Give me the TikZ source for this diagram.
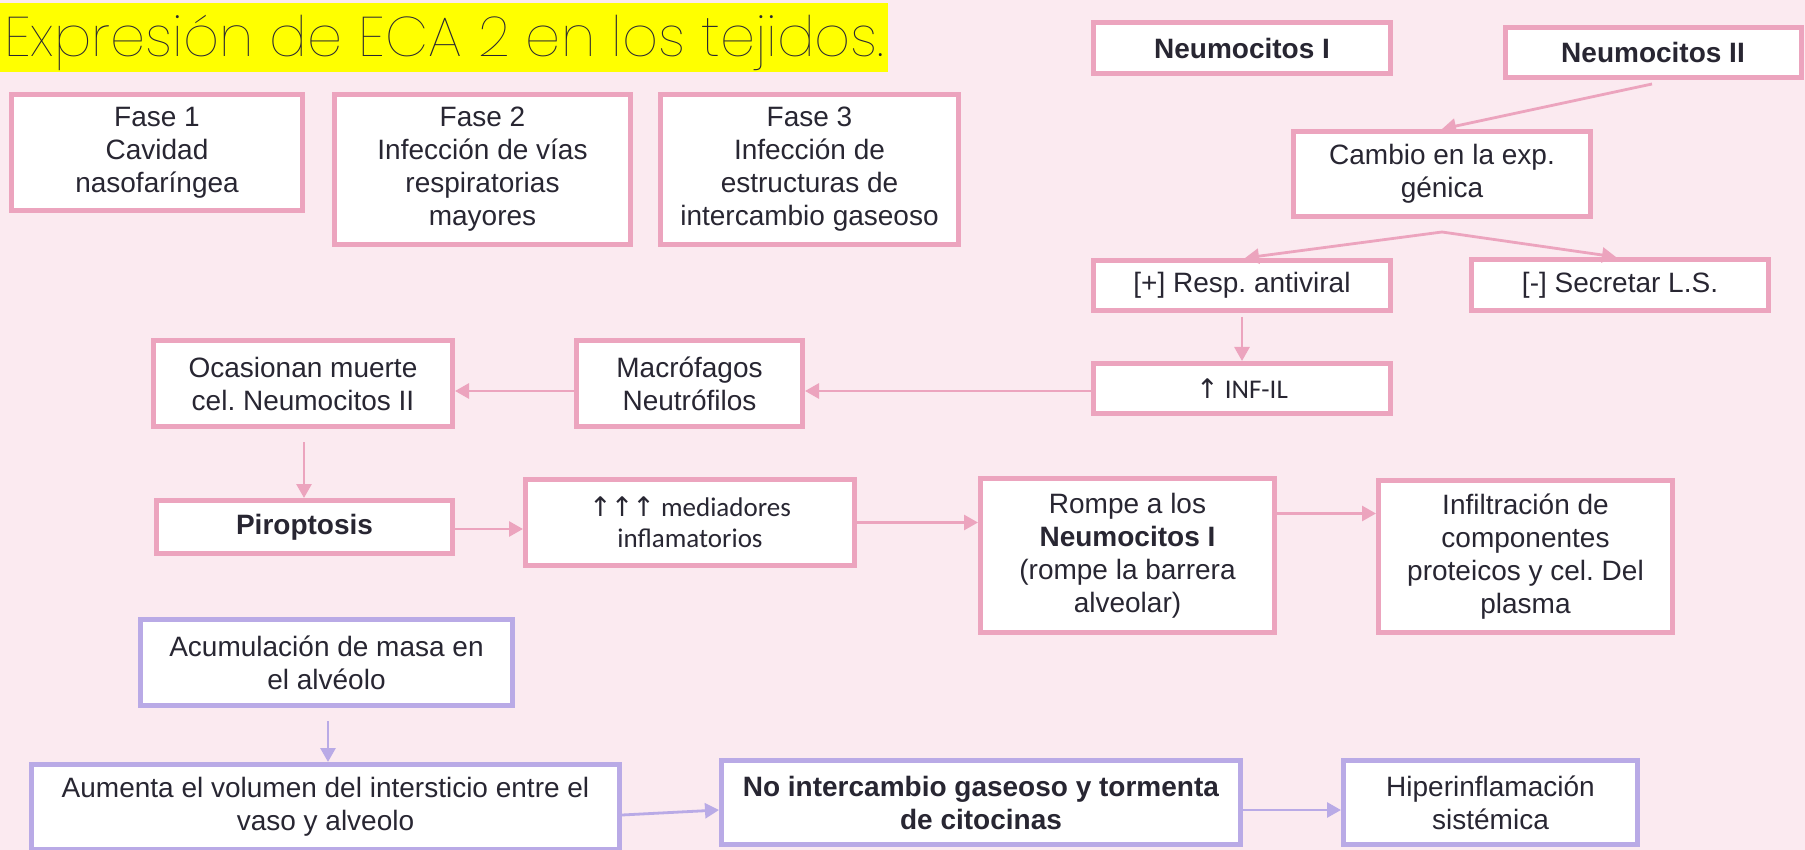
\documentclass[tikz,border=0pt]{standalone}
\usepackage{fontspec}
\setmainfont{Liberation Sans}
\newfontfamily\calib{Carlito}
\newfontfamily\dejavu{DejaVu Sans}
\IfFontExistsTF{Poppins Thin}{\newfontfamily\titlefont{Poppins Thin}}{\IfFontExistsTF{Poppins ExtraLight}{\newfontfamily\titlefont{Poppins ExtraLight}}{\newfontfamily\titlefont{Poppins Light}}}
\usetikzlibrary{arrows.meta,calc}
\frenchspacing
\definecolor{bg}{RGB}{251,234,240}
\definecolor{pk}{RGB}{236,164,190}
\definecolor{pu}{RGB}{185,170,230}
\definecolor{txt}{RGB}{40,38,50}
\definecolor{hl}{RGB}{255,255,0}
\tikzset{
  box/.style={draw=pk, line width=5pt, fill=white, align=center, text=txt, inner sep=0pt,
    font=\fontsize{28}{33}\selectfont},
  vbox/.style={box, draw=pu},
  cbox/.style={box, font=\calib\fontsize{27}{31}\selectfont},
  parr/.style={draw=pk, line width=2.8pt, -{Triangle[length=14pt,width=15pt]}},
  varr/.style={parr, draw=pu},
}
\begin{document}
\begin{tikzpicture}[x=1pt,y=-1pt]
\useasboundingbox (0,0) rectangle (1805,850);
\fill[bg] (0,0) rectangle (1805,850);
\fill[hl] (0,3) rectangle (888,72);
\node[anchor=base west, inner sep=0pt, text=txt] (title) at (4,57)
  {\resizebox{880pt}{!}{\titlefont\fontsize{50}{60}\selectfont Expresión de ECA 2 en los tejidos.}};

\node[box, minimum width=291pt, minimum height=116pt] (fase1) at (157,152.5) {Fase 1\\Cavidad\\nasofaríngea};
\node[box, minimum width=296pt, minimum height=150pt] (fase2) at (482.5,169.5) {Fase 2\\Infección de vías\\respiratorias\\mayores};
\node[box, minimum width=298pt, minimum height=150pt] (fase3) at (809.5,169.5) {Fase 3\\Infección de\\estructuras de\\intercambio gaseoso};

\node[box, minimum width=297pt, minimum height=51pt] (neu1) at (1242,48) {\textbf{Neumocitos I}};
\node[box, minimum width=296pt, minimum height=50pt] (neu2) at (1653,52.5) {\textbf{Neumocitos II}};
\node[box, minimum width=297pt, minimum height=85pt] (cambio) at (1442,174) {Cambio en la exp.\\génica};
\node[box, minimum width=297pt, minimum height=50pt] (resp) at (1242,285.5) {[+] Resp. antiviral};
\node[box, minimum width=297pt, minimum height=51pt] (secr) at (1620,285) {[-] Secretar L.S.};
\node[cbox, minimum width=297pt, minimum height=50pt] (infil) at (1242,388.5) {{\dejavu ↑} INF-IL};

\node[box, minimum width=226pt, minimum height=86pt] (macro) at (689.5,383.5) {Macrófagos\\Neutrófilos};
\node[box, minimum width=299pt, minimum height=86pt] (ocas) at (303,383.5) {Ocasionan muerte\\cel. Neumocitos II};
\node[box, minimum width=296pt, minimum height=53pt] (piro) at (304.5,527) {\textbf{Piroptosis}};
\node[cbox, minimum width=329pt, minimum height=86pt] (medi) at (690,522.5) {{\dejavu ↑\kern-1pt↑\kern-1pt↑} mediadores\\inflamatorios};
\node[box, minimum width=294pt, minimum height=154pt] (rompe) at (1127.5,555.5) {Rompe a los\\\textbf{Neumocitos I}\\(rompe la barrera\\alveolar)};
\node[box, minimum width=294pt, minimum height=152pt] (infiltr) at (1525.5,556.5) {Infiltración de\\componentes\\proteicos y cel. Del\\plasma};

\node[vbox, minimum width=372pt, minimum height=86pt] (acum) at (326.5,662.5) {Acumulación de masa en\\el alvéolo};
\node[vbox, minimum width=588pt, minimum height=85pt] (aumenta) at (325.5,807) {Aumenta el volumen del intersticio entre el\\vaso y alveolo};
\node[vbox, minimum width=519pt, minimum height=84pt] (noint) at (981,802.5) {\textbf{No intercambio gaseoso y tormenta}\\\textbf{de citocinas}};
\node[vbox, minimum width=294pt, minimum height=84pt] (hiper) at (1490.5,802.5) {Hiperinflamación\\sistémica};

% connectors
\draw[parr] ([xshift=-1pt,yshift=-4pt]neu2.south) -- (cambio.north);
\coordinate (br) at ([yshift=-13pt]cambio.south);
\draw[parr] (br) -- ([xshift=3pt]resp.north);
\draw[parr] (br) -- ([xshift=-4pt]secr.north);
\draw[parr] ([yshift=-4pt]resp.south) -- (infil.north);
\draw[parr] ([yshift=-2.5pt]infil.west) -- ([yshift=-2.5pt]infil.west -| macro.east);
\draw[parr] ([yshift=-7.5pt]macro.west) -- ([yshift=-7.5pt]ocas.east);
\draw[parr] ([xshift=1pt,yshift=-13pt]ocas.south) -- ([xshift=-0.5pt]piro.north);
\draw[parr] ([yshift=-2pt]piro.east) -- ([yshift=-2pt]piro.east -| medi.west);
\draw[parr] (medi.east) -- (medi.east -| rompe.west);
\coordinate (r1) at ([yshift=42pt]rompe.east);
\draw[parr] (r1) -- (r1 -| infiltr.west);
\draw[varr] ([xshift=1.5pt,yshift=-13pt]acum.south) -- ([xshift=1.5pt]aumenta.north -| acum.south);
\draw[varr] ([yshift=-8pt]aumenta.east) -- ([yshift=-7.5pt]noint.west);
\draw[varr] ([yshift=-7.5pt]noint.east) -- ([yshift=-7.5pt]hiper.west);
\end{tikzpicture}
\end{document}
